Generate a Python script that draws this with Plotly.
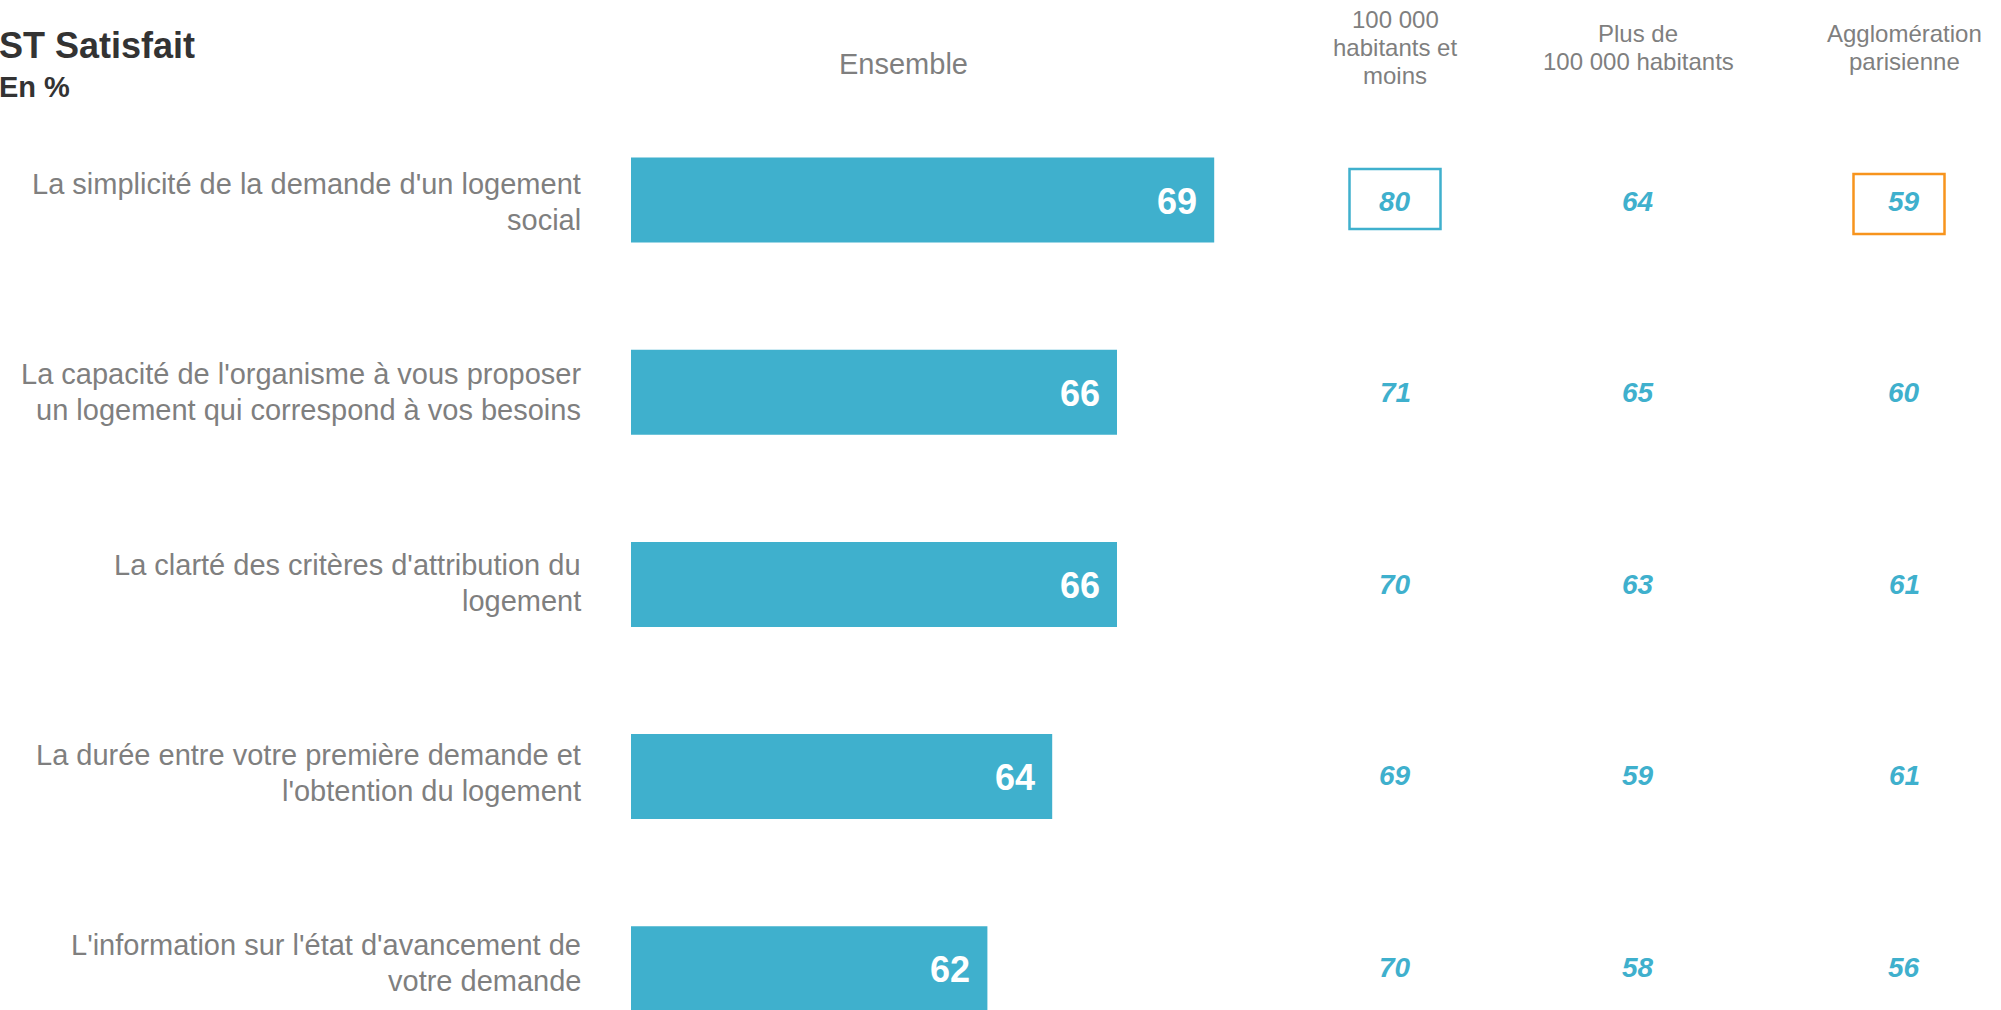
import plotly.graph_objects as go

# ---- data ---------------------------------------------------------------
categories = [
    "La simplicité de la demande d'un logement<br>social",
    "La capacité de l'organisme à vous proposer<br>un logement qui correspond à vos besoins",
    "La clarté des critères d'attribution du<br>logement",
    "La durée entre votre première demande et<br>l'obtention du logement",
    "L'information sur l'état d'avancement de<br>votre demande",
]
ensemble = [69, 66, 66, 64, 62]
moins_100k = [80, 71, 70, 69, 70]
plus_100k = [64, 65, 63, 59, 58]
agglo_paris = [59, 60, 61, 61, 56]

title_text = "ST Satisfait"
subtitle_text = "En %"
ensemble_header = "Ensemble"
column_headers = [
    "100 000<br>habitants et<br>moins",
    "Plus de<br>100 000 habitants",
    "Agglomération<br>parisienne",
]
# (row, column, direction) : significant differences vs. Ensemble
highlights = [(0, 0, "up"), (0, 2, "down")]

# ---- style / layout constants -------------------------------------------
W, H = 2001, 1010
FONT = "Liberation Sans, Arial, sans-serif"
TEAL = "#3fb0cd"
ORANGE = "#f7941d"
GRAY = "#7f7f7f"
DARK = "#333333"

ROW0_PX, ROW_STEP_PX = 200.0, 192.2      # centre of first row, row pitch
LABEL_DRIFT_PX = 1.85                     # labels sit on a slightly tighter pitch
BAR_LEFT_PX, PLOT_RIGHT_PX = 631.0, 1320.0
X_START, PX_PER_UNIT = 51.0, 32.4         # value axis origin and scale
COL_X_PX = [1395, 1638, 1904]             # centres of the breakdown columns
LABEL_RIGHT_PX = 583

n = len(categories)
rows = list(range(n))
columns = [moins_100k, plus_100k, agglo_paris]


def px_x(x):
    return x / W


def px_y(y):
    return 1 - y / H


fig = go.Figure()

fig.add_trace(go.Bar(
    x=ensemble,
    y=rows,
    orientation="h",
    width=85 / ROW_STEP_PX,
    marker=dict(color=TEAL, line=dict(width=0)),
    hoverinfo="skip",
    showlegend=False,
))

annotations = []


def text_block(text, x, y, xref, yref, size, color, xanchor, spacing,
               down_px=0.0, x_shift=0, bold=False, italic=False):
    """Place a multi-line text one line at a time with a fixed pitch."""
    lines = text.split("<br>")
    k = len(lines)
    for j, line in enumerate(lines):
        t = line
        if italic:
            t = f"<i>{t}</i>"
        if bold:
            t = f"<b>{t}</b>"
        shift = -((j - (k - 1) / 2) * spacing + down_px)
        annotations.append(dict(
            text=t, x=x, y=y, xref=xref, yref=yref,
            xanchor=xanchor, yanchor="middle", yshift=shift, xshift=x_shift,
            showarrow=False,
            font=dict(family=FONT, size=size, color=color),
        ))


# value labels inside the bars
for i, v in enumerate(ensemble):
    annotations.append(dict(
        text=f"<b>{v}</b>", x=v, y=i, xref="x", yref="y",
        xanchor="right", yanchor="middle", xshift=-15, yshift=-1,
        showarrow=False,
        font=dict(family=FONT, size=36, color="white"),
    ))

# category labels
for i, cat in enumerate(categories):
    text_block(cat, px_x(LABEL_RIGHT_PX), i, "paper", "y", 29, GRAY,
               "right", 36, down_px=2 - LABEL_DRIFT_PX * i)

# breakdown columns
for c, vals in enumerate(columns):
    for i, v in enumerate(vals):
        annotations.append(dict(
            text=f"<b><i>{v}</i></b>", x=px_x(COL_X_PX[c]), y=i,
            xref="paper", yref="y", xanchor="center", yanchor="middle",
            yshift=-1 + 0.6 * i, showarrow=False,
            font=dict(family=FONT, size=28, color=TEAL),
        ))

# headers
for c, head in enumerate(column_headers):
    text_block(head, px_x(COL_X_PX[c]), px_y(47), "paper", "paper", 24,
               GRAY, "center", 28)
text_block(ensemble_header, px_x(903.5), px_y(63.5), "paper", "paper", 29,
           GRAY, "center", 0)

# title
text_block(title_text, 0, px_y(45), "paper", "paper", 36, DARK, "left", 0,
           x_shift=-3, bold=True)
text_block(subtitle_text, 0, px_y(87), "paper", "paper", 29, DARK, "left", 0,
           x_shift=-3, bold=True)

# significance boxes
shapes = []
for r, c, direction in highlights:
    col = TEAL if direction == "up" else ORANGE
    dy = 1 if direction == "up" else -4
    dx = 0 if direction == "up" else -5
    shapes.append(dict(
        type="rect", xref="paper", yref="y",
        xsizemode="pixel", ysizemode="pixel",
        xanchor=px_x(COL_X_PX[c]), yanchor=r,
        x0=dx - 45.5, x1=dx + 45.5, y0=dy - 30, y1=dy + 30,
        line=dict(color=col, width=2.5), fillcolor="rgba(0,0,0,0)",
    ))

fig.update_layout(
    width=W, height=H,
    margin=dict(l=0, r=0, t=0, b=0),
    paper_bgcolor="white", plot_bgcolor="white",
    xaxis=dict(
        domain=[px_x(BAR_LEFT_PX), px_x(PLOT_RIGHT_PX)],
        range=[X_START, X_START + (PLOT_RIGHT_PX - BAR_LEFT_PX) / PX_PER_UNIT],
        visible=False, fixedrange=True,
    ),
    yaxis=dict(
        domain=[0, 1],
        range=[(H - ROW0_PX) / ROW_STEP_PX, -ROW0_PX / ROW_STEP_PX],
        visible=False, fixedrange=True,
    ),
    annotations=annotations,
    shapes=shapes,
    showlegend=False,
    font=dict(family=FONT),
)

fig.write_html("out.html")
